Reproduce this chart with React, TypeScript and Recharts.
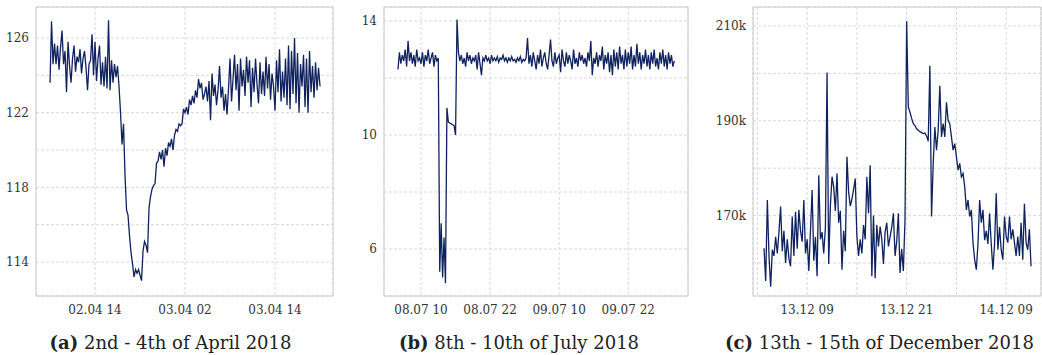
import { CartesianGrid, Line, LineChart, ReferenceArea, XAxis, YAxis } from 'recharts'

const NAVY = '#0f225e'
const SERIF = 'DejaVu Serif'

// (a) April: hours after 02.04 00:00, one sample every 12 min
const aprilStart = 8
const aprilStep = 0.2
const aprilValues = [
    123.6, 126.9, 124.6, 125.7, 124.6, 125.6, 124.3, 125.5, 126.4, 124.6,
    125.3, 123.1, 125.8, 124.5, 123.6, 124.9, 125.6, 124.2, 125.0, 124.7,
    125.4, 124.1, 124.9, 125.3, 124.4, 123.2, 124.6, 124.8, 126.2, 124.0,
    125.8, 123.7, 124.9, 125.6, 123.5, 124.7, 123.4, 125.0, 123.3, 126.95,
    123.2, 124.8, 123.6, 124.6, 123.9, 124.5,
    123.4, 122.0, 120.3, 121.4, 118.6, 116.8, 116.5, 115.4, 114.5, 113.9,
    113.2, 113.6, 113.4, 113.6, 113.3, 113.0, 114.6, 115.1, 114.9, 114.5,
    116.9, 117.5, 117.9, 118.1, 118.2, 119.3, 119.4, 119.9, 119.5, 120.0,
    119.1, 120.1, 119.7, 120.4, 120.2, 120.6, 120.0, 120.8, 121.1, 121.0,
    121.4, 121.3, 121.4, 122.2, 122.0, 122.3, 121.9, 122.7,
    122.4, 122.9, 122.5, 123.2, 122.8, 123.8, 123.3, 123.6, 122.7, 123.0,
    123.4, 122.6, 123.7, 121.6, 124.1, 122.9, 123.5, 122.4, 123.2, 124.5,
    122.8, 123.4, 122.1, 123.0, 121.9, 123.3, 124.9, 122.6, 123.8, 125.1,
    123.2, 124.6, 122.1, 124.9, 123.4, 124.3, 122.9, 125.0, 123.6, 124.8,
    122.3, 124.4, 123.1, 124.9, 123.5, 122.5, 124.7, 123.0, 124.2, 122.9,
    125.0, 123.3, 124.6, 122.7, 124.1, 123.4, 122.1, 124.8, 123.1, 125.4,
    122.6, 124.2, 122.8, 124.9, 122.4, 125.6, 122.2, 125.3, 123.0, 126.0,
    122.5, 125.2, 122.0, 124.6, 123.4, 125.1, 122.3, 124.9, 122.0, 125.3,
    123.1, 124.5, 122.8, 124.7, 123.2, 124.4, 123.4,
]
const aprilXTicks = [14, 26, 38]
const aprilXLabels = ['02.04 14', '03.04 02', '03.04 14']
const aprilYTicks = [114, 116, 118, 120, 122, 124, 126]
const aprilYLabels = ['114', '', '118', '', '122', '', '126']

// (b) July: hours after 08.07 00:00, one sample every 15 min
const julyStart = 6
const julyStep = 0.25
const julyValues = [
    12.3, 12.9, 12.5, 12.8, 12.6, 13.0, 12.4, 13.3, 12.6, 12.9,
    12.5, 12.8, 12.4, 13.0, 12.6, 12.7, 12.5, 12.9, 12.4, 12.8,
    12.6, 13.0, 12.5, 12.7, 12.9, 12.4, 12.8, 12.6, 12.7,
    5.2, 6.9, 5.0, 6.4, 4.8, 10.95, 10.45, 10.42, 10.39, 10.36, 10.32, 10.0, 14.05,
    12.9, 12.6, 12.8, 12.5, 12.7, 12.4, 12.9, 12.6, 12.8, 12.5,
    12.7, 12.6, 12.8, 12.3, 12.9, 12.5, 12.1, 12.7, 12.6, 12.8,
    12.6, 12.7, 12.5, 12.8, 12.6, 12.7, 12.6, 12.75, 12.55, 12.7,
    12.65, 12.8, 12.6, 12.7, 12.55, 12.7, 12.6, 12.75, 12.6, 12.65,
    12.55, 12.7, 12.6, 12.75, 12.55, 12.65, 12.6, 12.7, 13.4,
    12.5, 12.8, 12.4, 12.9, 12.6, 12.3, 12.8, 12.5, 13.0, 12.4,
    12.7, 12.9, 12.5, 12.3, 12.8, 13.35, 12.6, 12.4, 12.9, 12.5,
    12.7, 12.8, 12.2, 13.0, 12.6, 12.4, 12.9, 12.5, 12.8, 12.6,
    12.3, 13.0, 12.5, 12.7, 12.4, 12.9, 12.6, 12.8, 12.5, 12.7,
    12.4, 12.9, 12.6, 13.3, 12.1, 12.7, 12.5, 12.9, 12.4, 12.8,
    12.6, 13.1, 12.3, 12.8, 12.5, 12.9, 12.2, 12.8, 12.1, 13.0,
    12.4, 12.9, 12.3, 13.1, 12.5, 12.8, 12.3, 13.0, 12.4, 12.9,
    12.5, 13.1, 12.3, 12.8, 12.4, 13.2, 12.5, 12.9, 12.3, 12.8,
    12.5, 13.0, 12.4, 12.8, 12.3, 12.9, 12.5, 13.0, 12.4, 12.7,
    12.3, 12.9, 12.5, 13.0, 12.4, 12.8, 12.3, 12.9, 12.5, 12.8,
    12.4, 12.6,
]
const julyXTicks = [10, 22, 34, 46]
const julyXLabels = ['08.07 10', '08.07 22', '09.07 10', '09.07 22']
const julyYTicks = [6, 8, 10, 12, 14]
const julyYLabels = ['6', '', '10', '', '14']

// (c) December: hours after 13.12 00:00, values in thousands
const decStart = 3.8
const decStep = 0.2
const decValuesK = [
    163.1, 156.2, 173.3, 161.4, 155.0, 162.8, 161.5, 165.5, 162.0, 166.5,
    171.9, 162.5, 166.8, 160.0, 165.0, 161.0, 159.3, 169.8, 161.5, 170.8,
    163.0, 171.2, 166.8, 164.5, 173.3, 162.0, 165.0, 158.3, 166.8, 175.4,
    160.5, 165.5, 157.2, 178.5, 165.0, 166.5, 162.0, 167.5, 200.2, 159.8,
    172.0, 178.2, 176.0, 171.0, 178.9, 168.5, 171.0, 158.6, 166.8, 162.5,
    182.4, 175.0, 172.0, 173.5, 175.5, 177.8, 165.5, 161.5, 165.0, 162.0,
    168.0, 165.0, 178.2, 170.5, 180.6, 157.2, 170.0, 156.8, 168.0, 163.5,
    167.7, 165.0, 159.8, 166.5, 168.5, 163.5, 165.5, 167.5, 170.5, 161.5,
    164.5, 170.5, 157.9, 163.0, 158.3, 169.1, 211.0,
    192.9, 191.8, 190.5, 189.4, 189.0, 188.3, 188.0, 187.7, 187.5, 187.3, 187.4, 186.8, 185.7,
    201.6, 169.8, 181.0, 188.7, 183.8, 188.0, 197.4, 186.6, 189.4, 186.6,
    193.9, 190.1, 189.4, 186.6, 183.8, 185.2, 182.4, 179.6, 181.0, 178.2,
    178.9, 176.1, 171.2, 173.3, 169.8, 171.2, 164.3, 160.7, 158.6, 164.0,
    173.3, 168.5, 171.2, 164.8, 166.8, 164.0, 170.5, 164.0, 158.6, 164.0,
    174.7, 162.8, 167.6, 162.8, 160.7, 169.8, 165.6, 164.3, 169.8, 165.0,
    167.1, 164.3, 161.5, 165.6, 161.5, 168.5, 160.7, 172.5, 164.3, 162.8, 167.1, 159.3,
]
const decXTicks = [3, 9, 15, 21, 27, 33]
const decXLabels = ['', '13.12 09', '', '13.12 21', '', '14.12 09']
const decYTicks = [160, 170, 180, 190, 200, 210]
const decYLabels = ['', '170k', '', '190k', '', '210k']

const toRows = (start: number, step: number, values: number[]) =>
    values.map((v, i) => ({ t: +(start + i * step).toFixed(2), v }))

interface PanelProps {
    rows: { t: number; v: number }[]
    xDomain: [number, number]
    xTicks: number[]
    xLabels: string[]
    yDomain: [number, number]
    yTicks: number[]
    yLabels: string[]
    left: number
    width: number
    yAxisWidth: number
    rightGap: number
}

function Panel(p: PanelProps) {
    const tickStyle = { fill: '#333', fontSize: 12, fontFamily: SERIF }
    return (
        <div style={{ position: 'absolute', left: p.left, top: 0 }}>
            <LineChart width={p.width} height={320} data={p.rows}
                margin={{ top: 7, right: p.rightGap, bottom: 0, left: 0 }}>
                <CartesianGrid stroke="#d9d9d9" strokeDasharray="3 2" />
                <XAxis dataKey="t" type="number" domain={p.xDomain} ticks={p.xTicks} allowDataOverflow
                    interval={0} height={24} axisLine={false} tickLine={false} tickSize={0} tickMargin={9}
                    tick={tickStyle} tickFormatter={(v: number) => p.xLabels[p.xTicks.indexOf(v)] ?? ''} />
                <YAxis type="number" domain={p.yDomain} ticks={p.yTicks} allowDataOverflow
                    interval={0} width={p.yAxisWidth} axisLine={false} tickLine={false} tickSize={0} tickMargin={7}
                    tick={tickStyle} tickFormatter={(v: number) => p.yLabels[p.yTicks.indexOf(v)] ?? ''} />
                <ReferenceArea x1={p.xDomain[0]} x2={p.xDomain[1]} y1={p.yDomain[0]} y2={p.yDomain[1]}
                    fill="none" stroke="#cccccc" strokeWidth={1} ifOverflow="visible" />
                <Line dataKey="v" stroke={NAVY} strokeWidth={1.3} dot={false} isAnimationActive={false} />
            </LineChart>
        </div>
    )
}

function Caption({ center, tag, text }: { center: number; tag: string; text: string }) {
    return (
        <div style={{
            position: 'absolute', left: center - 200, width: 400, top: 334, textAlign: 'center',
            fontFamily: SERIF, fontSize: 18, lineHeight: '18px', color: '#222', whiteSpace: 'nowrap',
        }}>
            <b>{tag}</b> {text}
        </div>
    )
}

export default function App() {
    return (
        <div style={{ position: 'absolute', left: 0, top: 0, width: 1042, height: 355, background: '#fff' }}>
            <Panel rows={toRows(aprilStart, aprilStep, aprilValues)} xDomain={[6.13, 45.73]}
                xTicks={aprilXTicks} xLabels={aprilXLabels} yDomain={[112.18, 127.66]}
                yTicks={aprilYTicks} yLabels={aprilYLabels} left={0} width={345} yAxisWidth={36} rightGap={12} />
            <Panel rows={toRows(julyStart, julyStep, julyValues)} xDomain={[3.57, 56.38]}
                xTicks={julyXTicks} xLabels={julyXLabels} yDomain={[4.35, 14.49]}
                yTicks={julyYTicks} yLabels={julyYLabels} left={345} width={350} yAxisWidth={39} rightGap={7} />
            <Panel rows={toRows(decStart, decStep, decValuesK)} xDomain={[2.47, 37.2]}
                xTicks={decXTicks} xLabels={decXLabels} yDomain={[153.04, 214.0]}
                yTicks={decYTicks} yLabels={decYLabels} left={695} width={347} yAxisWidth={58} rightGap={1} />
            <Caption center={170.5} tag="(a)" text="2nd - 4th of April 2018" />
            <Caption center={519} tag="(b)" text="8th - 10th of July 2018" />
            <Caption center={879.5} tag="(c)" text="13th - 15th of December 2018" />
        </div>
    )
}
